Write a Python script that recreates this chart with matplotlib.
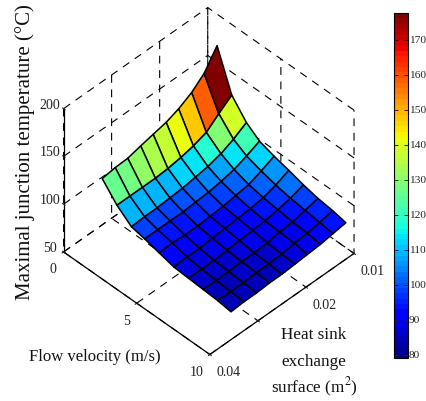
import numpy as np
import matplotlib
matplotlib.use("Agg")
import matplotlib.pyplot as plt
from matplotlib.colors import Normalize, ListedColormap

plt.rcParams['font.family'] = ['Liberation Serif', 'DejaVu Serif']

velocity = [1.1, 2.1, 3.1, 4.0, 5.0, 6.0, 7.0, 8.0, 9.0, 9.9]
surface = [0.0353, 0.0326, 0.0300, 0.0273, 0.0247, 0.0220, 0.0194, 0.0167, 0.0141, 0.0114]

# junction temperature, one row per velocity, one column per surface
temp_v1 = [122, 124, 124.6, 128, 131, 134, 139, 146.5, 157.4, 177]
temp_v2 = [105, 105, 105, 105, 106, 108, 111, 115.6, 126, 136]
temp_v3 = [93, 94, 94, 95, 96, 98, 100, 104, 110, 118]
temp_v4 = [90, 90, 90, 90, 91, 92, 94, 97, 102, 108]
temp_v5 = [86, 87, 86, 86, 87, 88, 90, 92, 97, 103]
temp_v6 = [82, 83, 83, 84, 85, 86, 87, 89, 93, 99]
temp_v7 = [81, 81, 81, 82, 83, 84, 85, 87, 90, 94.5]
temp_v8 = [80, 80, 80, 81, 81, 82, 84, 85, 88, 91]
temp_v9 = [79, 79, 79, 80, 80, 81, 83, 84, 86, 89]
temp_v10 = [77, 78, 78, 79, 79, 80, 81, 82, 84, 86]

x_ticks = [0, 5, 10]
x_tick_labels = ['0', '5', '10']
y_ticks = [0.04, 0.03, 0.02, 0.01]
y_tick_labels = ['0.04', '', '0.02', '0.01']
z_ticks = [50, 100, 150, 200]
z_tick_labels = ['50', '100', '150', '200']
cbar_ticks = [80, 90, 100, 110, 120, 130, 140, 150, 160, 170]

T_MIN, T_MAX = 79, 177.6

Z = np.array([temp_v1, temp_v2, temp_v3, temp_v4, temp_v5,
              temp_v6, temp_v7, temp_v8, temp_v9, temp_v10])
Y, X = np.meshgrid(surface, velocity)

jet64 = ListedColormap(plt.get_cmap('jet')(np.linspace(0, 1, 64)))
norm = Normalize(T_MIN, T_MAX)

# flat shading: each cell takes the colour of its corner on the hot side
corner = np.hstack([Z[:, 1:], Z[:, -1:]])
facecolors = jet64(Normalize(74, T_MAX)(corner))

fig = plt.figure(figsize=(4.26, 4.01), dpi=100)
ax = fig.add_axes([-0.0226, 0.035, 1, 1], projection='3d', proj_type='ortho')
ax.view_init(elev=44.5, azim=-45)
ax.set_box_aspect((205, 202, 199), zoom=0.855)
ax.patch.set_alpha(0)

ax.plot_surface(X, Y, Z, facecolors=facecolors, edgecolor='k', linewidth=1.1,
                rstride=1, cstride=1, shade=False, antialiased=True)

ax.set_xlim(0, 10)
ax.set_ylim(0.04, 0.01)
ax.set_zlim(50, 200)
ax.set_xticks(x_ticks)
ax.set_xticklabels(x_tick_labels, ha='right')
ax.set_yticks(y_ticks)
ax.set_yticklabels(y_tick_labels, ha='left')
ax.set_zticks(z_ticks)
ax.set_zticklabels(z_tick_labels, va='baseline')
ax.tick_params(labelsize=10, colors='#222222', pad=-1)

for axis in (ax.xaxis, ax.yaxis, ax.zaxis):
    axis.set_pane_color((1, 1, 1, 0))
    axis.pane.set_edgecolor('none')
    axis._axinfo['grid'].update(color='k', linestyle=(0, (7, 6)), linewidth=0.8)
    axis._axinfo['tick'].update(inward_factor=0.12, outward_factor=0.08, linewidth={True: 0.8, False: 0.8})
    axis.line.set_color('k')
    axis.line.set_linewidth(0.9)
ax.zaxis.set_ticks_position('upper')

fig.text(25 / 426, 1 - 152 / 401, 'Maximal junction temperature (\u00b0C)', rotation=90,
         ha='center', va='center', fontsize=15, color='#111111')
fig.text(95 / 426, 1 - 357 / 401, 'Flow velocity (m/s)', ha='center', va='center',
         fontsize=12, color='#111111')
fig.text(314 / 426, 1 - 335 / 401, 'Heat sink', ha='center', va='center', fontsize=12.3, color='#111111')
fig.text(314 / 426, 1 - 362 / 401, 'exchange', ha='center', va='center', fontsize=12.3, color='#111111')
fig.text(314 / 426, 1 - 387 / 401, 'surface (m$^2$)', ha='center', va='center', fontsize=12.3,
         color='#111111', math_fontfamily='stix')

cax = fig.add_axes([394 / 426, 1 - 358 / 401, 14 / 426, 345 / 401])
sm = plt.cm.ScalarMappable(norm=norm, cmap=jet64)
cbar = fig.colorbar(sm, cax=cax, ticks=cbar_ticks)
cbar.outline.set_linewidth(0.8)
cax.tick_params(direction='in', length=3, width=0.7, left=True, right=True,
                labelsize=8.2, pad=0.5, colors='#222222')

fig.savefig('out.png', dpi=100)
